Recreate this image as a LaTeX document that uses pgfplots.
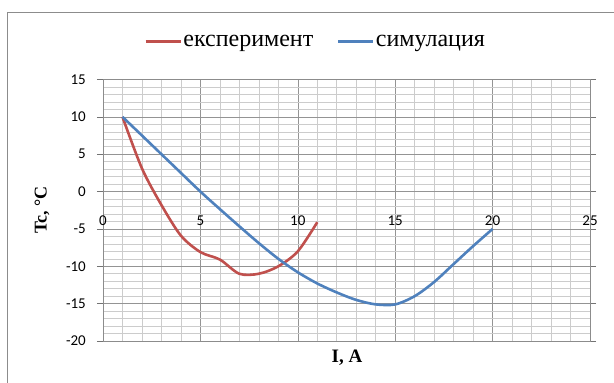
\documentclass[border=0pt]{standalone}
\usepackage{pgfplots}
\pgfplotsset{compat=1.18}
\usepackage{fontspec}
\setmainfont{Liberation Serif}
\newfontfamily\calibri{Carlito}
\definecolor{exred}{HTML}{C0504D}
\definecolor{exblue}{HTML}{4F81BD}
\begin{document}
\begin{tikzpicture}[x=1pt,y=1pt]
\useasboundingbox (0,0) rectangle (614,383);
\draw[black!45, line width=0.8pt] (7,-5) -- (7,371) -- (620,371);
\begin{axis}[
  at={(103pt,42pt)}, anchor=south west,
  scale only axis, width=487pt, height=261.5pt,
  clip=false,
  xmin=0, xmax=25, ymin=-20, ymax=15,
  xtick={0,5,...,25}, xticklabels={},
  ytick={-20,-15,...,15},
  yticklabels={-20,-15,-10,-5,0,5,10,15},
  minor x tick num=4, minor y tick num=4,
  grid=both,
  major grid style={black!42, line width=0.6pt},
  minor grid style={black!20, line width=0.6pt},
  xtick style={draw=none},
  minor tick length=0pt,
  ytick align=outside, major tick length=6pt,
  ytick style={black!55, line width=0.6pt},
  axis line style={black!45, line width=0.6pt},
  yticklabel style={font=\calibri\fontsize{15}{15}\selectfont, anchor=east, inner sep=0pt, xshift=-11pt},
  legend columns=2,
  legend style={draw=none, fill=none, at={(axis description cs:0.436,1.145)}, anchor=center,
    font=\fontsize{24}{24}\selectfont, nodes={inner sep=1.5pt},
    /tikz/every even column/.append style={column sep=22pt}},
  legend image code/.code={\draw[#1] (0pt,0pt) -- (35pt,0pt);},
]
\addplot[exred, line width=2.6pt, smooth] coordinates {
(1,10) (2,3.1) (3,-1.8) (4,-5.9) (5,-8.1) (6,-9.1) (7,-11) (8,-11) (9,-10) (10,-8) (11,-4.1)};
\addlegendentry{експеримент}
\addplot[exblue, line width=2.6pt, smooth] coordinates {
(1,10) (2,7.5) (3,5) (4,2.5) (5,0) (6,-2.35) (7,-4.65) (8,-6.9) (9,-9.0) (10,-10.8) (11,-12.3) (12,-13.5) (13,-14.5) (14,-15.1) (15,-15.1) (16,-14) (17,-12.1) (18,-9.7) (19,-7.3) (20,-5)};
\addlegendentry{симулация}
\pgfplotsinvokeforeach{0,5,10,15,20,25}{
  \node[font=\calibri\fontsize{15}{15}\selectfont, anchor=center, inner sep=0pt] at (axis cs:#1,-3.84) {#1};
}
\end{axis}
\node[rotate=90, font=\bfseries\fontsize{18}{18}\selectfont] at (42,173) {Tc, °C};
\node[font=\bfseries\fontsize{19}{19}\selectfont, anchor=base] at (347,20) {I, A};
\end{tikzpicture}
\end{document}
